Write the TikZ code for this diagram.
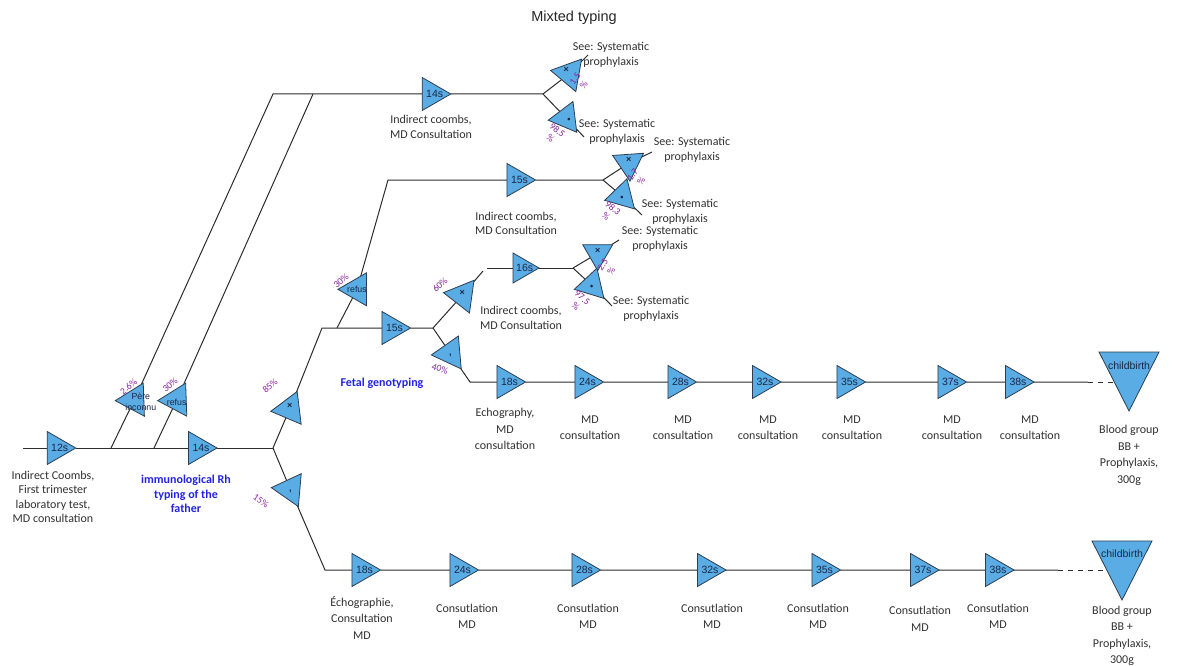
\documentclass[tikz,border=0pt]{standalone}
\usepackage{fontspec}
\setmainfont{Carlito}
\newfontfamily\arialfont{Liberation Sans}
\usetikzlibrary{shapes.geometric,backgrounds}

\definecolor{trifill}{RGB}{90,172,228}
\definecolor{triedge}{RGB}{45,62,82}
\definecolor{trilbl}{RGB}{25,40,70}
\definecolor{linecol}{RGB}{45,45,45}
\definecolor{pctcol}{RGB}{140,35,160}
\definecolor{notecol}{RGB}{35,35,225}
\definecolor{txtcol}{RGB}{50,50,50}

\tikzset{
  tri/.style={regular polygon, regular polygon sides=3, draw=triedge, fill=trifill,
    line width=0.8pt, inner sep=0pt, outer sep=0pt, minimum size=#1},
  tri/.default=38.1pt,
  pointdir/.style={shape border rotate=#1},
  birth/.style={isosceles triangle, isosceles triangle stretches, shape border rotate=270,
    minimum width=60pt, minimum height=59pt, inner sep=0pt, outer sep=0pt,
    draw=triedge, fill=trifill, line width=0.8pt},
  tlbl/.style={font=\arialfont\fontsize{10.5}{12}\selectfont, text=trilbl, inner sep=0pt, xshift=3pt},
  clbl/.style={font=\arialfont\fontsize{8.8}{10.5}\selectfont, text=trilbl, inner sep=0pt, align=center},
  sym/.style={font=\arialfont\bfseries\fontsize{9}{10}\selectfont, text=trilbl, inner sep=0pt},
  txt/.style={font=\fontsize{12}{16.5}\selectfont, text=txtcol, align=center, inner sep=0pt},
  txtc/.style={font=\fontsize{12}{14.5}\selectfont, text=txtcol, align=center, inner sep=0pt},
  pct/.style={font=\fontsize{9.5}{10.5}\selectfont, text=pctcol, inner sep=0pt, align=center},
  note/.style={font=\bfseries\fontsize{12}{14.5}\selectfont, text=notecol, align=center, inner sep=0pt},
  ttlfont/.style={font=\arialfont\fontsize{14.5}{16}\selectfont, text=black!85, inner sep=0pt},
  link/.style={draw=linecol, line width=1pt},
  tail/.style={draw=linecol, line width=1pt, dash pattern=on 5pt off 5pt},
}

\begin{document}
\begin{tikzpicture}[x=1pt,y=-1pt]
\useasboundingbox (0,0) rectangle (1191,666);

\node[ttlfont] (title) at (574,18) {Mixted typing};

% ---- junction points ----
\coordinate (start) at (23,448);
\coordinate (S1) at (111,448);
\coordinate (S2) at (154,448);
\coordinate (B1) at (273,448);
\coordinate (J1) at (273,94);
\coordinate (J2) at (313,94);
\coordinate (Q1) at (543,94);
\coordinate (e1u) at (588,55);
\coordinate (e1l) at (584,137);
\coordinate (K1) at (322,328);
\coordinate (S3) at (337,328);
\coordinate (K2) at (388,180);
\coordinate (Q2) at (603,180);
\coordinate (e2u) at (652,152);
\coordinate (e2l) at (642,215);
\coordinate (B2) at (433,328);
\coordinate (K4a) at (483,271);
\coordinate (K4b) at (487,268);
\coordinate (Q3) at (573,268);
\coordinate (e3u) at (619,240);
\coordinate (e3l) at (612,306);
\coordinate (K5) at (470,382);
\coordinate (K3) at (325,570);
\coordinate (dA) at (1088,382);
\coordinate (dB) at (1058,570);

% ---- first trimester and father's typing ----
\node[tri, pointdir=270, label={[tlbl]center:12s}] (t12) at (56.7,448) {};
\node[tri, pointdir=270, label={[tlbl]center:14s}] (t14m) at (198,448) {};
\node[tri, pointdir=92, label={[clbl, xshift=6.5pt, yshift=-2pt]center:Père\\inconnu}] (pere) at (134.3,400) {};
\node[tri, pointdir=92, label={[clbl, yshift=-2pt]center:refus}] (reflo) at (176.7,400) {};
\node[tri, pointdir=97, label={[sym, yshift=3pt]center:×}] (star) at (289.7,409) {};
\node[tri, pointdir=85, label={[sym, yshift=-2pt]center:,}] (dot15) at (290.3,489.3) {};

% ---- upper branch (father unknown / refused) ----
\node[tri, pointdir=270, label={[tlbl]center:14s}] (t14t) at (431.7,94) {};
\node[tri, pointdir=80, label={[sym, yshift=4pt, xshift=-3pt]center:×}] (p1u) at (569.3,73.7) {};
\node[tri=35.8pt, pointdir=97, label={[sym, yshift=-2pt, xshift=3pt]center:•}] (p1l) at (566,118) {};

% ---- fetal genotyping refused ----
\node[tri, pointdir=90, label={[clbl]center:refus}] (refup) at (357,289.3) {};
\node[tri, pointdir=270, label={[tlbl]center:15s}] (t15t) at (516.5,180) {};
\node[tri=35.8pt, pointdir=184, label={[sym, yshift=3pt]center:×}] (p2u) at (628.7,163.3) {};
\node[tri=35.8pt, pointdir=104, label={[sym, yshift=-2pt]center:•}] (p2l) at (622,196) {};

% ---- fetal genotyping ----
\node[tri, pointdir=270, label={[tlbl]center:15s}] (t15m) at (391.5,328) {};
\node[tri, pointdir=82, label={[sym, yshift=2pt]center:×}] (x60) at (462.3,295.3) {};
\node[tri, pointdir=95, label={[sym, yshift=-2pt]center:,}] (dot40) at (450.3,353.3) {};
\node[tri=34.6pt, pointdir=270, label={[tlbl]center:16s}] (t16) at (521.7,268) {};
\node[tri=34.6pt, pointdir=180, label={[sym, yshift=2pt]center:×}] (p3u) at (597.7,253.3) {};
\node[tri=35.8pt, pointdir=103, label={[sym, yshift=-2pt]center:•}] (p3l) at (591.7,285.3) {};

% ---- follow-up row (genotyped) ----
\node[tri, pointdir=270, label={[tlbl]center:18s}] (m18) at (506.5,382) {};
\node[tri, pointdir=270, label={[tlbl]center:24s}] (m24) at (584.5,382) {};
\node[tri, pointdir=270, label={[tlbl]center:28s}] (m28) at (677.5,382) {};
\node[tri, pointdir=270, label={[tlbl]center:32s}] (m32) at (762,382) {};
\node[tri, pointdir=270, label={[tlbl]center:35s}] (m35) at (846.5,382) {};
\node[tri, pointdir=270, label={[tlbl]center:37s}] (m37) at (947.5,382) {};
\node[tri, pointdir=270, label={[tlbl]center:38s}] (m38) at (1015,382) {};
\node[birth, anchor=apex] (birthA) at (1129,411) {};
\node[clbl, font=\arialfont\fontsize{10.5}{12}\selectfont] (cbA) at (1129,366) {childbirth};

% ---- follow-up row (Rh negative father) ----
\node[tri, pointdir=270, label={[tlbl]center:18s}] (b18) at (361.5,570) {};
\node[tri, pointdir=270, label={[tlbl]center:24s}] (b24) at (459.5,570) {};
\node[tri, pointdir=270, label={[tlbl]center:28s}] (b28) at (581.5,570) {};
\node[tri, pointdir=270, label={[tlbl]center:32s}] (b32) at (707,570) {};
\node[tri, pointdir=270, label={[tlbl]center:35s}] (b35) at (821.5,570) {};
\node[tri, pointdir=270, label={[tlbl]center:37s}] (b37) at (920,570) {};
\node[tri, pointdir=270, label={[tlbl]center:38s}] (b38) at (995,570) {};
\node[birth, anchor=apex] (birthB) at (1122,600) {};
\node[clbl, font=\arialfont\fontsize{10.5}{12}\selectfont] (cbB) at (1122,554) {childbirth};

% ---- probabilities ----
\node[pct, rotate=40] (pc1) at (128.5,386.5) {2.6\%};
\node[pct, rotate=40] (pc2) at (170,385) {30\%};
\node[pct, rotate=40] (pc3) at (270,386) {85\%};
\node[pct, rotate=-35] (pc4) at (261,501) {15\%};
\node[pct, rotate=40] (pc5) at (341,281) {30\%};
\node[pct, rotate=42] (pc6) at (440,285) {60\%};
\node[pct, rotate=-18] (pc7) at (440,369) {40\%};
\node[pct, rotate=55] (pc8) at (579.5,82) {1.5\\\%};
\node[pct, rotate=-40] (pc9) at (554,134) {98.5\\\%};
\node[pct, rotate=55] (pc10) at (637,177.5) {1.7\\\%};
\node[pct, rotate=-40] (pc11) at (609.5,212) {98.3\\\%};
\node[pct, rotate=55] (pc12) at (607,268) {2.5\\\%};
\node[pct, rotate=-40] (pc13) at (579,302) {97.5\\\%};

% ---- notes ----
\node[txtc] (n12) at (53,497) {Indirect Coombs,\\First trimester\\laboratory test,\\MD consultation};
\node[note] (nfather) at (186,494) {immunological Rh\\typing of the\\father};
\node[note] (nfetal) at (382,383) {Fetal genotyping};
\node[txtc] (n14t) at (431,127) {Indirect coombs,\\MD Consultation};
\node[txtc] (n15t) at (516,223.5) {Indirect coombs,\\MD Consultation};
\node[txtc] (n16) at (521,318) {Indirect coombs,\\MD Consultation};
\node[txtc] (s1u) at (611,55) {See: Systematic\\prophylaxis};
\node[txtc] (s1l) at (617,132) {See: Systematic\\prophylaxis};
\node[txtc] (s2u) at (692,150) {See: Systematic\\prophylaxis};
\node[txtc] (s2l) at (680,212) {See: Systematic\\prophylaxis};
\node[txtc] (s3u) at (660,239) {See: Systematic\\prophylaxis};
\node[txtc] (s3l) at (651,309) {See: Systematic\\prophylaxis};

\node[txt] (nm18) at (505,429) {Echography,\\MD\\consultation};
\node[txt] (nm24) at (590,427.5) {MD\\consultation};
\node[txt] (nm28) at (683,427.5) {MD\\consultation};
\node[txt] (nm32) at (768,427.5) {MD\\consultation};
\node[txt] (nm35) at (852,427.5) {MD\\consultation};
\node[txt] (nm37) at (952,427.5) {MD\\consultation};
\node[txt] (nm38) at (1030,427.5) {MD\\consultation};
\node[txt] (nbA) at (1129,455.5) {Blood group\\BB +\\Prophylaxis,\\300g};

\node[txt] (nb18) at (362,617.5) {Échographie,\\Consultation\\MD};
\node[txt] (nb24) at (467,616.5) {Consutlation\\MD};
\node[txt] (nb28) at (588,616.5) {Consutlation\\MD};
\node[txt] (nb32) at (712,616.5) {Consutlation\\MD};
\node[txt] (nb35) at (818,616.5) {Consutlation\\MD};
\node[txt] (nb37) at (920,619) {Consutlation\\MD};
\node[txt] (nb38) at (998,616.5) {Consutlation\\MD};
\node[txt] (nbB) at (1122,636) {Blood group\\BB +\\Prophylaxis,\\300g};

% ---- connectors, behind the triangles ----
\begin{pgfonlayer}{background}
\fill[white] (0,0) rectangle (1191,666);
\draw[link] (start) -- (t12) -- (t14m) -- (B1);
\draw[link] (S1) -- (pere) -- (J1) -- (J2) -- (t14t) -- (Q1);
\draw[link] (S2) -- (reflo) -- (J2);
\draw[link] (Q1) -- (p1u) -- (e1u);
\draw[link] (Q1) -- (p1l) -- (e1l);
\draw[link] (B1) -- (star) -- (K1) -- (t15m) -- (B2);
\draw[link] (S3) -- (refup) -- (K2) -- (t15t) -- (Q2);
\draw[link] (Q2) -- (p2u) -- (e2u);
\draw[link] (Q2) -- (p2l) -- (e2l);
\draw[link] (B2) -- (x60) -- (K4a);
\draw[link] (K4b) -- (t16) -- (Q3);
\draw[link] (Q3) -- (p3u) -- (e3u);
\draw[link] (Q3) -- (p3l) -- (e3l);
\draw[link] (B2) -- (dot40) -- (K5) -- (m18) -- (m24) -- (m28) -- (m32) -- (m35) -- (m37) -- (m38) -- (dA);
\draw[tail] (dA) -- (dA -| birthA.apex);
\draw[link] (B1) -- (dot15) -- (K3) -- (b18) -- (b24) -- (b28) -- (b32) -- (b35) -- (b37) -- (b38) -- (dB);
\draw[tail] (dB) -- (dB -| birthB.apex);
\end{pgfonlayer}
\end{tikzpicture}
\end{document}
